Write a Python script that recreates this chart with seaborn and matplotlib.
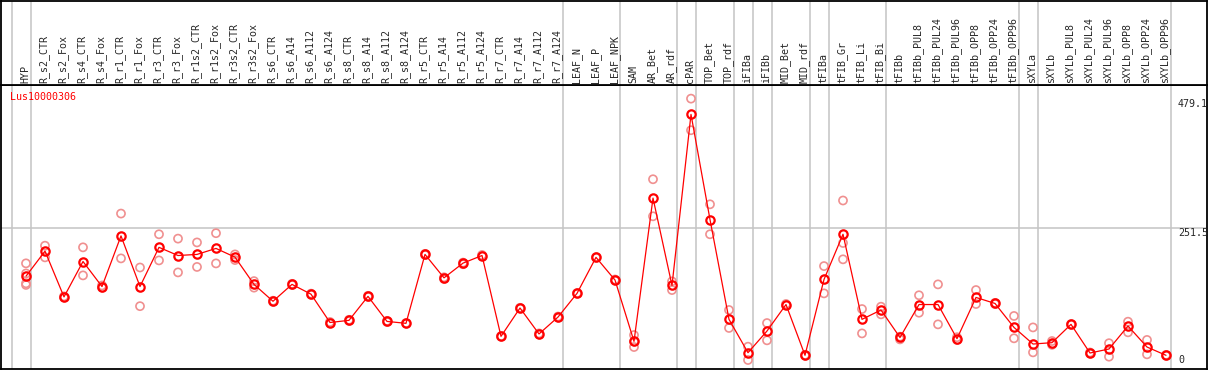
import pandas as pd
import matplotlib
matplotlib.use('Agg')
import matplotlib.pyplot as plt
import seaborn as sns

# sample labels (one column each)
samples = ['HYP', 'R_s2_CTR', 'R_s2_Fox', 'R_s4_CTR', 'R_s4_Fox', 'R_r1_CTR', 'R_r1_Fox',
           'R_r3_CTR', 'R_r3_Fox', 'R_r1s2_CTR', 'R_r1s2_Fox', 'R_r3s2_CTR', 'R_r3s2_Fox',
           'R_s6_CTR', 'R_s6_A14', 'R_s6_A112', 'R_s6_A124', 'R_s8_CTR', 'R_s8_A14',
           'R_s8_A112', 'R_s8_A124', 'R_r5_CTR', 'R_r5_A14', 'R_r5_A112', 'R_r5_A124',
           'R_r7_CTR', 'R_r7_A14', 'R_r7_A112', 'R_r7_A124', 'LEAF_N', 'LEAF_P', 'LEAF_NPK',
           'SAM', 'AR_Bet', 'AR_rdf', 'cPAR', 'TOP_Bet', 'TOP_rdf', 'iFIBa', 'iFIBb',
           'MID_Bet', 'MID_rdf', 'tFIBa', 'tFIB_Gr', 'tFIB_Li', 'tFIB_Bi', 'tFIBb',
           'tFIBb_PUL8', 'tFIBb_PUL24', 'tFIBb_PUL96', 'tFIBb_OPP8', 'tFIBb_OPP24',
           'tFIBb_OPP96', 'sXYLa', 'sXYLb', 'sXYLb_PUL8', 'sXYLb_PUL24', 'sXYLb_PUL96',
           'sXYLb_OPP8', 'sXYLb_OPP24', 'sXYLb_OPP96']

# mean expression per sample
means = [163, 209, 125, 190, 144, 237, 144, 216, 201, 203, 214, 198, 148, 117, 148,
         130, 78, 82, 126, 80, 76.5, 203, 160, 187, 201, 52.6, 104.6, 57, 88, 131.5, 197.6,
         156, 43.4, 306.4, 146, 460, 267, 83.8, 22.6, 62.4, 111, 17.8, 157, 240, 83.8, 101,
         50.5, 111, 111, 48.3, 124, 113, 69, 38.5, 41, 74.6, 22, 29.4, 71.6, 33, 17.8]

# replicate values per sample
replicates = [[186.6, 168, 150, 147], [219, 197.6], [126, 124], [216, 164.5], [146, 142],
              [278, 195.7], [179, 108], [240, 192], [232, 170], [225, 180], [242, 186.5],
              [203, 192.7], [154, 142], [118, 116], [149, 147], [131, 129], [79, 77],
              [83, 81], [127, 125], [81, 79], [77, 76], [204, 202], [161, 158], [188, 185],
              [202, 200], [53, 52], [105, 104], [58, 56], [89, 87], [132, 131], [198, 197],
              [157, 155], [55, 43, 33], [341, 273], [153.5, 137.6], [489, 431], [295, 240],
              [101, 68], [33.6, 9.2], [77, 45.3], [112, 110], [18.5, 17], [181.6, 131.5],
              [302, 224, 194], [102.7, 58], [107, 93], [52, 47], [128, 96], [148, 74.6],
              [51, 46], [137.6, 112], [114, 112], [90, 49], [69, 23.2], [44, 37], [75, 74],
              [23, 21], [40, 15.3], [79.5, 60], [46, 19.6], [18.5, 17]]

# group separators come right after these columns
separators_after = [-1, 0, 28, 31, 34, 35, 37, 38, 39, 41, 42, 45, 52, 53, 60]

gene = 'Lus10000306'
y_ticks = [479.1, 251.5, 0]
y_tick_labels = ['479.1', '251.5', '0']

mean_df = pd.DataFrame({'pos': range(len(samples)), 'value': means})
rep_df = pd.DataFrame([(i, v) for i, vals in enumerate(replicates) for v in vals],
                      columns=['pos', 'value'])

sns.set_style('white')
plt.rcParams['font.family'] = ['DejaVu Sans Mono', 'DejaVu Sans']

W, H = 1209, 370
fig = plt.figure(figsize=(W / 100, H / 100), dpi=100)

x_lim = ((1 - 26) / 19, (1207 - 26) / 19)
scale = (365 - 228) / 251.5
y_lim = (-(369 - 365) / scale, (365 - 85) / scale)

ax = fig.add_axes([1 / W, 1 / H, 1206 / W, 284 / H])
head = fig.add_axes([1 / W, 285 / H, 1206 / W, 84 / H])

grey = '#c4c4c4'
red = '#ff0000'
pink = '#f09090'

for a in (ax, head):
    a.set_xlim(*x_lim)
    a.set_xticks([])
    a.set_yticks([])
    for s in separators_after:
        a.axvline(s + 0.24, color=grey, lw=1.1, zorder=0)
    for sp in a.spines.values():
        sp.set_color('black')
        sp.set_linewidth(1.3)

head.set_ylim(0, 84)
for i, name in enumerate(samples):
    head.text(i - 0.05, 2, name, rotation=90, ha='center', va='bottom', fontsize=7.2)

ax.set_ylim(*y_lim)
ax.axhline(251.5, color=grey, lw=1.1, zorder=0)

sns.scatterplot(data=rep_df, x='pos', y='value', ax=ax, marker='o', s=34,
                facecolors='none', edgecolor=pink, linewidth=1.2, zorder=2, legend=False)
sns.lineplot(data=mean_df, x='pos', y='value', ax=ax, color=red, lw=0.9,
             marker='o', markersize=6, markerfacecolor='none', markeredgecolor=red,
             markeredgewidth=1.6, zorder=3)
ax.set_xlabel('')
ax.set_ylabel('')

# gene name in the top-left corner of the plot
ax.text(-0.85, 0.959, gene, transform=ax.get_xaxis_transform(), color=red,
        fontsize=7.2, va='center', ha='left')

tick_x = (1178 - 26) / 19
for v, lab, va in zip(y_ticks, y_tick_labels, ['center', 'top', 'bottom']):
    ax.text(tick_x, v, lab, fontsize=7.2, ha='left', va=va)

fig.savefig('out.png', dpi=100)
